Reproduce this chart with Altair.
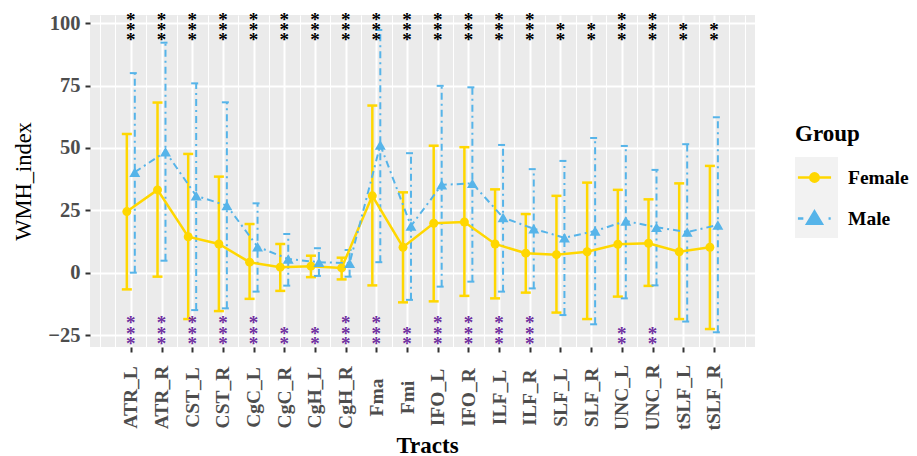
import altair as alt
import pandas as pd

# ---------------- data ----------------
tracts = ["ATR_L", "ATR_R", "CST_L", "CST_R", "CgC_L", "CgC_R", "CgH_L", "CgH_R", "Fma", "Fmi",
          "IFO_L", "IFO_R", "ILF_L", "ILF_R", "SLF_L", "SLF_R", "UNC_L", "UNC_R", "tSLF_L", "tSLF_R"]
groups = ["Female", "Male"]

female_mean = [24.5, 33.2, 14.4, 11.5, 4.2, 2.2, 2.6, 1.9, 30.8, 10.2,
               19.8, 20.3, 11.5, 7.8, 7.2, 8.4, 11.4, 11.8, 8.4, 10.2]
female_upper = [55.6, 68.2, 47.6, 38.5, 19.5, 11.5, 6.8, 6.0, 67.0, 32.2,
                50.9, 50.3, 33.4, 23.5, 30.8, 36.1, 33.2, 29.4, 35.8, 42.8]
female_lower = [-6.7, -1.6, -18.6, -15.4, -10.5, -7.3, -1.8, -2.7, -5.1, -11.9,
                -11.5, -9.3, -10.3, -8.0, -16.0, -18.6, -9.6, -5.3, -18.6, -22.6]

male_mean = [40.3, 48.5, 30.8, 26.9, 10.4, 5.5, 4.2, 3.8, 51.2, 18.7,
             35.2, 35.8, 22.1, 17.6, 14.0, 16.7, 20.7, 18.2, 16.3, 19.1]
male_upper = [80.0, 92.2, 75.9, 68.3, 27.8, 15.5, 9.8, 9.1, 97.3, 47.9,
              74.9, 74.3, 51.2, 41.5, 44.8, 54.0, 50.8, 41.2, 51.5, 62.3]
male_lower = [0.0, 4.8, -15.0, -14.3, -7.6, -5.2, -1.3, -1.6, 4.2, -10.9,
              -5.6, -3.6, -7.6, -6.3, -17.0, -20.7, -10.3, -5.1, -19.6, -23.9]

sig_top = ["***"] * 14 + ["**", "**", "***", "***", "**", "**"]
sig_bottom = ["***", "***", "***", "***", "***", "**", "**", "***", "***", "**",
              "***", "***", "***", "***", "", "", "**", "**", "", ""]

# ---------------- styling ----------------
FONT = "Liberation Serif"
GOLD = "#FFD700"
BLUE = "#56B4E9"
PURPLE = "#7030A0"
DODGE = 0.13
MALE_DASH = [7, 4, 2, 4]
STAR_STEP = 10.4

rows = []
for i, t in enumerate(tracts):
    rows.append({"tract": t, "idx": i, "group": "Female", "pos": i - DODGE,
                 "mean": female_mean[i], "lo": female_lower[i], "hi": female_upper[i]})
    rows.append({"tract": t, "idx": i, "group": "Male", "pos": i + DODGE,
                 "mean": male_mean[i], "lo": male_lower[i], "hi": male_upper[i]})
df = pd.DataFrame(rows)

stars = pd.DataFrame({"idx": list(range(len(tracts))), "top": sig_top, "bottom": sig_bottom})

names_js = "[" + ",".join("'" + t + "'" for t in tracts) + "]"
n = len(tracts)

x_minor_test = f"datum.value % 1 != 0 || datum.value < 0 || datum.value > {n - 1}"
x_scale = alt.Scale(domain=[-1.33, n - 1 + 1.34], nice=False, zero=False)
x_axis = alt.Axis(
    values=[v / 2 for v in range(-2, 2 * n + 1)],
    labelExpr=f"({x_minor_test}) ? '' : {names_js}[datum.value]",
    title="Tracts",
    titleFont=FONT, titleFontSize=23, titleFontWeight="bold", titleColor="black",
    titleX=337, titleY=105, titleBaseline="alphabetic", titleAlign="center",
    labelFont=FONT, labelFontSize=19.5, labelFontWeight="bold", labelColor="#4D4D4D",
    labelAngle=-90, labelAlign="center", labelBaseline="middle", labelPadding=45,
    labelOverlap=False, labelFlush=False, labelBound=False,
    domain=False, tickColor="#333333", tickWidth=2, tickSize=5,
    tickOpacity={"condition": {"test": x_minor_test, "value": 0}, "value": 1},
    grid=True, gridColor="white",
    gridWidth={"condition": {"test": x_minor_test, "value": 1}, "value": 2},
)

y_minor_test = "datum.value % 25 != 0"
y_scale = alt.Scale(domain=[-29.8, 103.3], nice=False, zero=False)
y_axis = alt.Axis(
    values=[-25, -12.5, 0, 12.5, 25, 37.5, 50, 62.5, 75, 87.5, 100],
    labelExpr=f"({y_minor_test}) ? '' : datum.label",
    title="WMH_index",
    titleFont=FONT, titleFontSize=22.5, titleFontWeight="normal", titleColor="black",
    titleX=-60, titleY=166, titleBaseline="alphabetic", titleAlign="center", titleAngle=-90,
    labelFont=FONT, labelFontSize=20.5, labelFontWeight="bold", labelColor="#4D4D4D",
    labelPadding=5,
    domain=False, tickColor="#333333", tickWidth=2, tickSize=5,
    tickOpacity={"condition": {"test": y_minor_test, "value": 0}, "value": 1},
    grid=True, gridColor="white",
    gridWidth={"condition": {"test": y_minor_test, "value": 1}, "value": 2},
)

X = alt.X("pos:Q", scale=x_scale, axis=x_axis)
Y_lo = alt.Y("lo:Q", scale=y_scale, axis=y_axis)

base = alt.Chart(df)
fem = base.transform_filter("datum.group == 'Female'")
mal = base.transform_filter("datum.group == 'Male'")

# error bars
f_bar = fem.mark_rule(strokeWidth=2.5, color=GOLD).encode(x=X, y=Y_lo, y2="hi:Q")
m_bar = mal.mark_rule(strokeWidth=2, strokeDash=MALE_DASH, color=BLUE).encode(x=X, y=Y_lo, y2="hi:Q")
f_cap_hi = fem.mark_rule(strokeWidth=2.5, color=GOLD, xOffset=-5, x2Offset=5).encode(x=X, x2="pos:Q", y="hi:Q")
f_cap_lo = fem.mark_rule(strokeWidth=2.5, color=GOLD, xOffset=-5, x2Offset=5).encode(x=X, x2="pos:Q", y="lo:Q")
m_cap_hi = mal.mark_rule(strokeWidth=2, strokeDash=MALE_DASH, color=BLUE, xOffset=-5, x2Offset=6).encode(x=X, x2="pos:Q", y="hi:Q")
m_cap_lo = mal.mark_rule(strokeWidth=2, strokeDash=MALE_DASH, color=BLUE, xOffset=-5, x2Offset=6).encode(x=X, x2="pos:Q", y="lo:Q")

# lines
f_line = fem.mark_line(strokeWidth=2.5, color=GOLD).encode(x=X, y="mean:Q")
m_line = mal.mark_line(strokeWidth=2, strokeDash=MALE_DASH, color=BLUE).encode(x=X, y="mean:Q")

# points
f_pts = fem.mark_point(shape="circle", filled=True, size=80, opacity=1, color=GOLD).encode(x=X, y="mean:Q")
m_pts = mal.mark_point(shape="triangle-up", filled=True, size=120, opacity=1, color=BLUE).encode(x=X, y="mean:Q")

# significance stars: one text layer per star level, stacked upward
sx = alt.X("idx:Q", scale=x_scale, axis=x_axis)
star_layers = []
for k in range(3):
    star_layers.append(
        alt.Chart(stars).transform_filter(f"length(datum.top) > {k}").mark_text(
            font=FONT, fontSize=19, fontWeight="bold", baseline="middle", color="black",
            dy=-STAR_STEP * k).encode(x=sx, y=alt.datum(93.1), text=alt.value("*")))
    star_layers.append(
        alt.Chart(stars).transform_filter(f"length(datum.bottom) > {k}").mark_text(
            font=FONT, fontSize=19, fontWeight="bold", baseline="middle", color=PURPLE,
            dy=-STAR_STEP * k).encode(x=sx, y=alt.datum(-28.7), text=alt.value("*")))

# legend: grey key background + a legend built from the group scales
key_bg = alt.Chart(pd.DataFrame({"k": [0]})).mark_rect(color="#F2F2F2").encode(
    x=alt.value(705), x2=alt.value(748), y=alt.value(142), y2=alt.value(223))

female_sym = "M-0.92,0L0.92,0M0.24,0A0.24,0.24,0,1,1,-0.24,0A0.24,0.24,0,1,1,0.24,0Z"
male_sym = "M-0.92,0L-0.62,0M0.78,0L0.9,0M0,-0.4L0.42,0.3L-0.42,0.3Z"
leg = alt.Legend(title="Group", orient="none", legendX=705, legendY=108, padding=0,
                 titleFont=FONT, titleFontSize=23, titleFontWeight="bold", titleColor="black",
                 titlePadding=12,
                 labelFont=FONT, labelFontSize=19.5, labelFontWeight="bold", labelColor="black",
                 labelOffset=14, symbolSize=1296, symbolStrokeWidth=2.3, rowPadding=12,
                 symbolOpacity=1)
group_colors = alt.Scale(domain=groups, range=[GOLD, BLUE])
leg_fill = base.transform_filter("datum.idx < 0").mark_point(filled=True).encode(
    x=X, y="mean:Q",
    color=alt.Color("group:N", scale=group_colors, legend=leg),
    shape=alt.Shape("group:N", scale=alt.Scale(domain=groups, range=[female_sym, male_sym]), legend=leg),
)
leg_stroke = base.transform_filter("datum.idx < 0").mark_point(filled=False).encode(
    x=X, y="mean:Q",
    stroke=alt.Stroke("group:N", scale=group_colors, legend=leg),
)

chart = alt.layer(
    f_bar, m_bar, f_cap_hi, f_cap_lo, m_cap_hi, m_cap_lo,
    f_line, m_line, f_pts, m_pts, *star_layers, key_bg, leg_fill, leg_stroke,
).properties(
    width=665, height=332,
    autosize=alt.AutoSizeParams(type="none"),
    padding={"left": 82, "top": 7, "right": 154, "bottom": 109},
).configure_view(fill="#EBEBEB", stroke=None)

chart.save("out.html", embed_options={"renderer": "svg", "actions": False})
